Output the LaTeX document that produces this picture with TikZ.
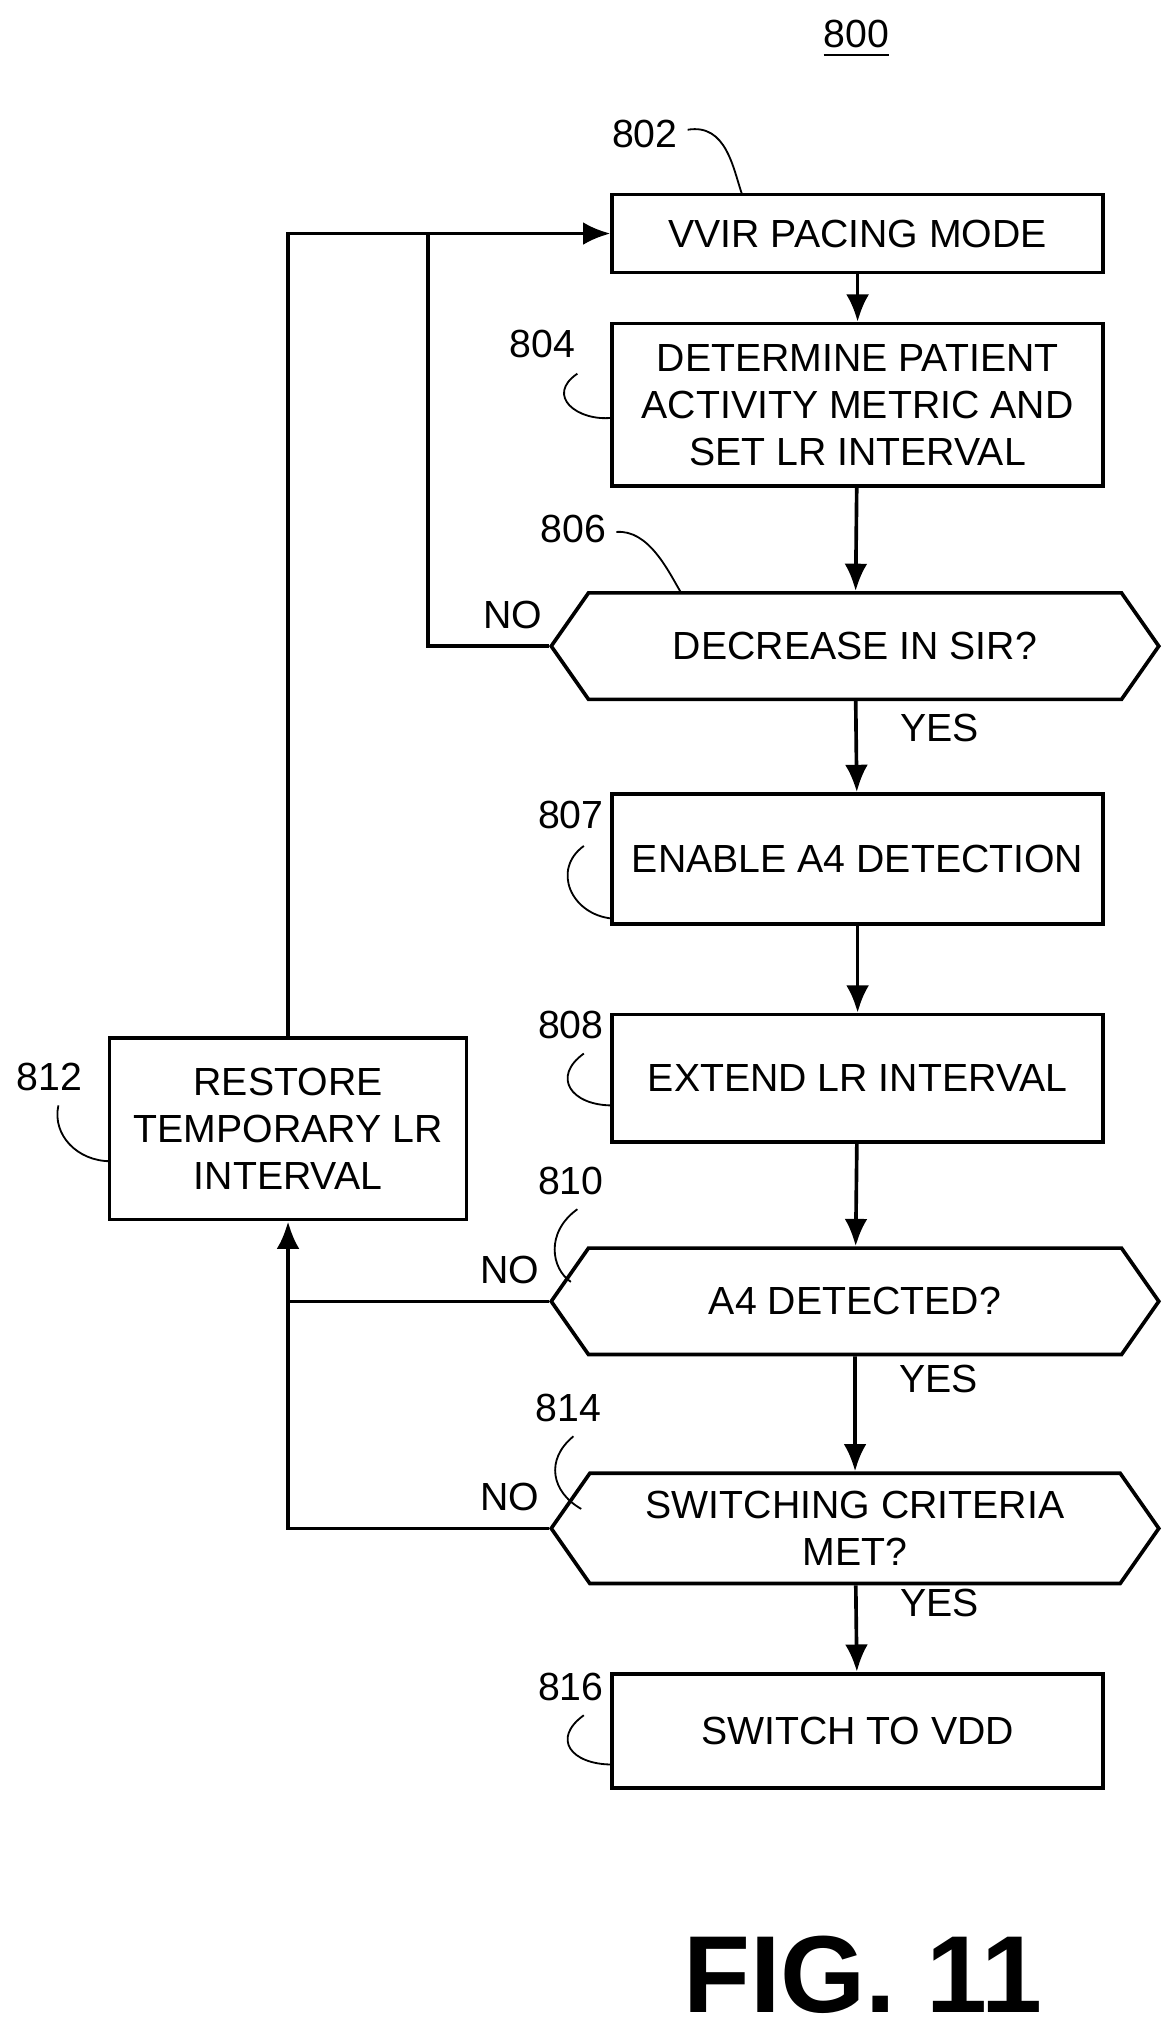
\documentclass[tikz,border=0pt]{standalone}
\usepackage{fontspec}
\setmainfont{Liberation Sans}
\usetikzlibrary{shapes.symbols,arrows.meta}

\begin{document}
\begin{tikzpicture}[x=0.01cm, y=-0.01cm, font=\fontsize{8.6}{10.3}\selectfont]
    \tikzstyle{block} = [rectangle, draw, thick, align=center, minimum width=3.78cm, inner sep=2pt]
    \tikzstyle{decision} = [signal, signal to=west and east, signal pointer angle=110, draw, thick, minimum width=4.68cm, minimum height=0.82cm, align=center, inner sep=1pt]
    \tikzstyle{line} = [draw, thick, -{Latex[length=6pt,width=5pt]}]
    \tikzstyle{plain} = [draw, thick]
    \tikzstyle{lead} = [thin]
    \useasboundingbox (0,0) rectangle (905,1560);

    \node (fig) at (660,30) {\underline{800}};
    \node[block, minimum height=0.6cm] (mode) at (661,180) {VVIR PACING MODE};
    \node[block, minimum height=1.25cm] (metric) at (661,312) {DETERMINE PATIENT\\ACTIVITY METRIC AND\\SET LR INTERVAL};
    \node[decision] (sir) at (659,498) {DECREASE IN SIR?};
    \node[block, minimum height=1.0cm] (enable) at (661,662) {ENABLE A4 DETECTION};
    \node[block, minimum height=0.98cm] (extend) at (661,831) {EXTEND LR INTERVAL};
    \node[decision] (detected) at (659,1003) {A4 DETECTED?};
    \node[decision, minimum height=0.85cm] (criteria) at (659,1178) {SWITCHING CRITERIA\\MET?};
    \node[block, minimum height=0.88cm] (vdd) at (661,1334) {SWITCH TO VDD};
    \node[block, minimum width=2.75cm, minimum height=1.4cm] (restore) at (222,870) {RESTORE\\TEMPORARY LR\\INTERVAL};

    \coordinate (topleft) at (222,180);
    \coordinate (topjoin) at (330,180);
    \coordinate (sirleft) at (330,498);
    \coordinate (detleft) at (222,1003);
    \coordinate (critleft) at (222,1178);

    \path[line] (mode) -- (metric);
    \path[line] (metric) -- (sir);
    \path[line] (sir) -- node[right, xshift=6pt, pos=0.3] {YES} (enable);
    \path[line] (enable) -- (extend);
    \path[line] (extend) -- (detected);
    \path[line] (detected) -- node[right, xshift=6pt, pos=0.2] {YES} (criteria);
    \path[line] (criteria) -- node[right, xshift=6pt, pos=0.2] {YES} (vdd);
    \path[line] (restore.north) -- (topleft) -- (mode.west);
    \path[plain] (sir.west) -- node[above, pos=0.3] {NO} (sirleft) -- (topjoin);
    \path[line] (detected.west) -- node[above, pos=0.15] {NO} (detleft) -- (restore.south);
    \path[plain] (criteria.west) -- node[above, pos=0.15] {NO} (critleft) -- (detleft);

    % reference numerals
    \node (n802) at (497,103) {802};
    \draw[lead] (530,100) .. controls (560,95) and (565,130) .. (572,150);
    \node (n804) at (418,265) {804};
    \draw[lead] (445,288) .. controls (420,305) and (445,325) .. (472,322);
    \node (n806) at (442,408) {806};
    \draw[lead] (475,410) .. controls (500,408) and (515,440) .. (525,457);
    \node (n807) at (440,628) {807};
    \draw[lead] (450,652) .. controls (425,670) and (440,705) .. (472,708);
    \node (n808) at (440,790) {808};
    \draw[lead] (450,812) .. controls (425,830) and (440,852) .. (472,852);
    \node (n810) at (440,910) {810};
    \draw[lead] (445,932) .. controls (420,950) and (425,978) .. (440,988);
    \node (n812) at (38,830) {812};
    \draw[lead] (45,852) .. controls (40,875) and (60,895) .. (85,895);
    \node (n814) at (438,1085) {814};
    \draw[lead] (442,1107) .. controls (420,1125) and (425,1150) .. (448,1163);
    \node (n816) at (440,1300) {816};
    \draw[lead] (450,1322) .. controls (425,1340) and (440,1360) .. (472,1360);

    \node[font=\fontsize{24}{28}\selectfont\bfseries] (figlabel) at (665,1522) {FIG. 11};
\end{tikzpicture}
\end{document}
